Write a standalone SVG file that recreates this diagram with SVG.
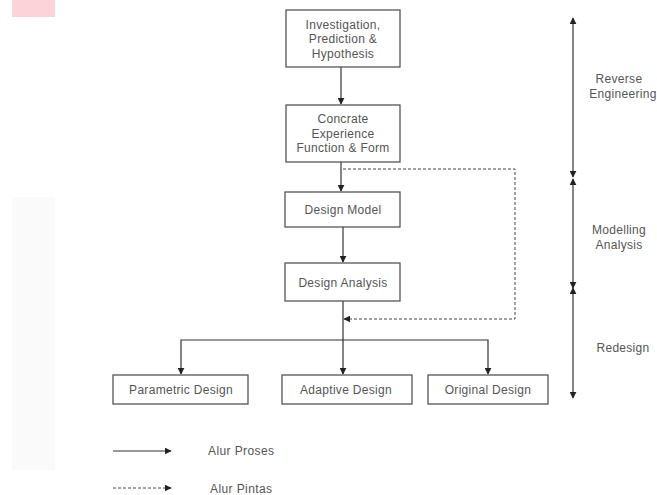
<svg xmlns="http://www.w3.org/2000/svg" width="657" height="495" viewBox="0 0 657 495">
<defs>
<marker id="ah" viewBox="0 0 10 10" refX="9" refY="5" markerWidth="7" markerHeight="7" markerUnits="userSpaceOnUse" orient="auto-start-reverse">
<path d="M0,0 L10,5 L0,10 z" fill="#222"/>
</marker>
<style>
.box{fill:#fff;stroke:#555;stroke-width:1.3}
.t{font-family:"Liberation Sans",Arial,sans-serif;font-size:12px;letter-spacing:0.3px;fill:#555;text-anchor:middle}
.tl{font-family:"Liberation Sans",Arial,sans-serif;font-size:12px;letter-spacing:0.4px;fill:#555}
.ln{fill:none;stroke:#333;stroke-width:1.2}
.dl{fill:none;stroke:#444;stroke-width:1;stroke-dasharray:3,2}
</style>
</defs>
<rect width="657" height="495" fill="#fff"/>
<rect x="12" y="0" width="43" height="17" fill="#fdd3da"/>
<rect x="12" y="197" width="43" height="273" fill="#fafafa"/>
<g id="connectors">
<line class="ln" x1="341" y1="67" x2="341" y2="104" marker-end="url(#ah)"/>
<line class="ln" x1="341" y1="162" x2="341" y2="191" marker-end="url(#ah)"/>
<line class="ln" x1="343" y1="227" x2="343" y2="262" marker-end="url(#ah)"/>
<line class="ln" x1="343" y1="301" x2="343" y2="374" marker-end="url(#ah)"/>
<polyline class="ln" points="181,374 181,340 488,340 488,374" marker-start="url(#ah)" marker-end="url(#ah)"/>
<polyline class="dl" points="343,169 515,169 515,319 344,319" marker-end="url(#ah)"/>
<line class="ln" x1="573" y1="18" x2="573" y2="177" marker-start="url(#ah)" marker-end="url(#ah)"/>
<line class="ln" x1="573" y1="179" x2="573" y2="288" marker-start="url(#ah)" marker-end="url(#ah)"/>
<line class="ln" x1="573" y1="288" x2="573" y2="398" marker-start="url(#ah)" marker-end="url(#ah)"/>
<line class="ln" x1="113" y1="451" x2="171" y2="451" marker-end="url(#ah)"/>
<line class="dl" x1="113" y1="488" x2="171" y2="488" marker-end="url(#ah)"/>
</g>
<g id="n1"><rect class="box" x="286" y="10" width="114" height="57"/>
<text class="t" x="343" y="29">Investigation,</text><text class="t" x="343" y="43">Prediction &amp;</text><text class="t" x="343" y="58">Hypothesis</text></g>
<g id="n2"><rect class="box" x="286" y="105" width="114" height="57"/>
<text class="t" x="343" y="123">Concrate</text><text class="t" x="343" y="138">Experience</text><text class="t" x="343" y="152">Function &amp; Form</text></g>
<g id="n3"><rect class="box" x="285" y="192" width="115" height="35"/>
<text class="t" x="343" y="214">Design Model</text></g>
<g id="n4"><rect class="box" x="285" y="263" width="115" height="38"/>
<text class="t" x="343" y="287">Design Analysis</text></g>
<g id="n5"><rect class="box" x="113" y="375" width="135" height="29"/>
<text class="t" x="181" y="394">Parametric Design</text></g>
<g id="n6"><rect class="box" x="282" y="375" width="130" height="29"/>
<text class="t" x="346" y="394">Adaptive Design</text></g>
<g id="n7"><rect class="box" x="428" y="375" width="120" height="29"/>
<text class="t" x="488" y="394">Original Design</text></g>
<g id="phases">
<text class="t" x="619" y="83">Reverse</text><text class="t" x="623" y="98">Engineering</text>
<text class="t" x="619" y="234">Modelling</text><text class="t" x="619" y="249">Analysis</text>
<text class="t" x="623" y="352">Redesign</text>
</g>
<g id="legend">
<text class="tl" x="208" y="455">Alur Proses</text>
<text class="tl" x="210" y="493">Alur Pintas</text>
</g>
</svg>
